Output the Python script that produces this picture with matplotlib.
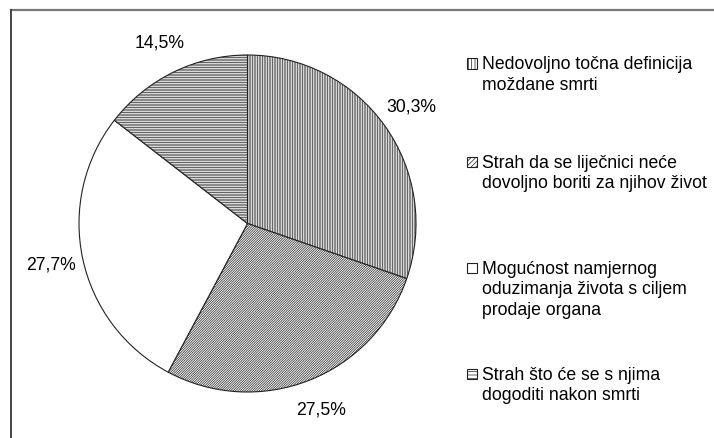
import matplotlib
matplotlib.use("Agg")
import matplotlib.pyplot as plt
from matplotlib.patches import Rectangle
from matplotlib.lines import Line2D

labels = [
    "Nedovoljno točna definicija\nmoždane smrti",
    "Strah da se liječnici neće\ndovoljno boriti za njihov život",
    "Mogućnost namjernog\noduzimanja života s ciljem\nprodaje organa",
    "Strah što će se s njima\ndogoditi nakon smrti",
]
values = [30.3, 27.5, 27.7, 14.5]
hatches = ["|" * 10, "/" * 14, "", "-" * 10]

plt.rcParams["font.family"] = ["Liberation Sans", "DejaVu Sans"]
plt.rcParams["hatch.linewidth"] = 0.5

W, H, DPI = 714, 438, 100
fig = plt.figure(figsize=(W / DPI, H / DPI), dpi=DPI)
fig.patch.set_facecolor("white")

cx, cy, r = 247.5, 223.5, 168.5
ax = fig.add_axes([(cx - r) / W, (H - cy - r) / H, 2 * r / W, 2 * r / H])

def fmt(p):
    return f"{p:.1f}%".replace(".", ",")

FS = 12.7
wedges, texts, autotexts = ax.pie(
    values, startangle=90, counterclock=False, autopct=fmt, pctdistance=1.19,
    colors=["white"] * 4,
    wedgeprops=dict(edgecolor="#222222", linewidth=0.8),
    textprops=dict(fontsize=FS, color="black"),
)
for w, h in zip(wedges, hatches):
    w.set_hatch(h)
ax.set_xlim(-1, 1)
ax.set_ylim(-1, 1)
ax.set_aspect("equal")
ax.axis("off")

px = lambda x: x / W
py = lambda y: 1 - y / H
entry_tops = [63.5, 162, 268, 374]
for lab, h, ty in zip(labels, hatches, entry_tops):
    sq = Rectangle((px(467), py(ty + 5)), 10 / W, 10 / H, transform=fig.transFigure,
                   facecolor="white", edgecolor="#222222", linewidth=0.8,
                   hatch=h[: max(len(h) // 2, 0)] if h else "")
    fig.add_artist(sq)
    fig.text(px(482), py(ty - 7.5), lab, fontsize=FS, va="top", ha="left",
             linespacing=1.27)

# frame lines
fig.add_artist(Line2D([px(10.5), px(713)], [py(10), py(10)], color="#777777", lw=1.6,
                      transform=fig.transFigure))
fig.add_artist(Line2D([px(10.5), px(10.5)], [py(10), py(438)], color="#444444", lw=1.4,
                      transform=fig.transFigure))

fig.savefig("out.png", dpi=DPI, facecolor="white")
